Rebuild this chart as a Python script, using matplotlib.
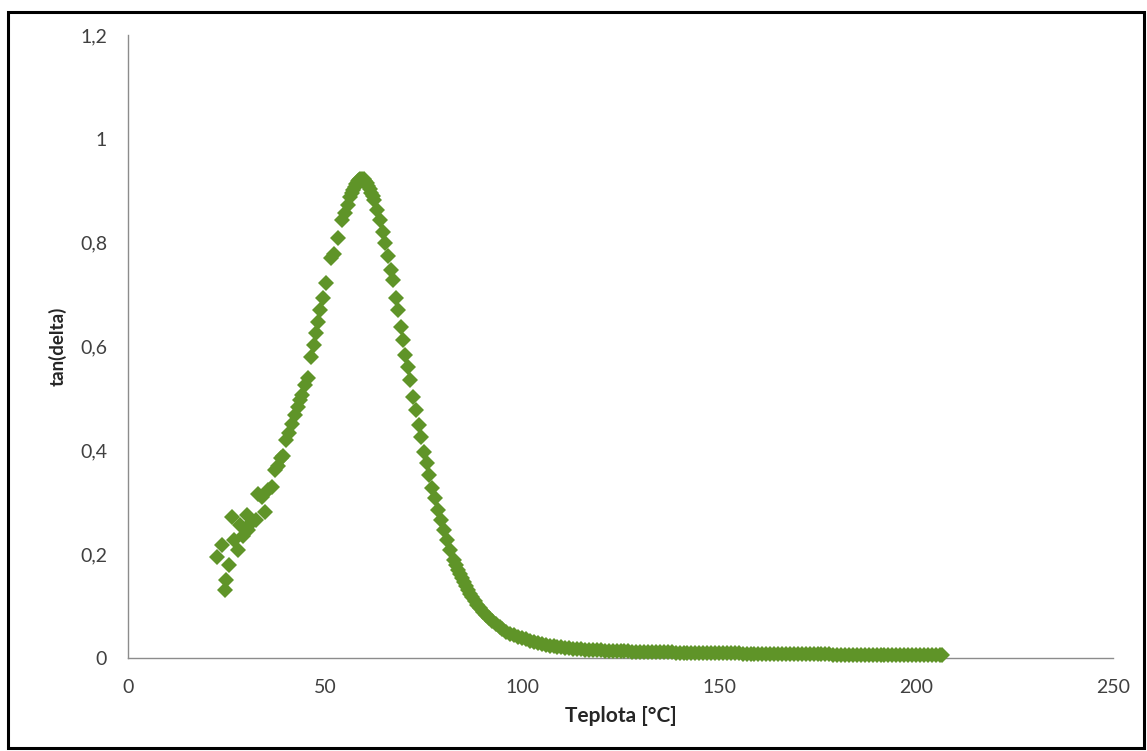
import matplotlib
matplotlib.use("Agg")
import matplotlib.pyplot as plt
from matplotlib.patches import Rectangle
from matplotlib.ticker import FuncFormatter

# ---- data ----
temp_low = [22.6, 23.9, 24.6, 24.9, 25.6, 26.4, 26.9, 27.9, 28.4, 29.2, 30.2, 30.5,
            31.5, 32.5, 33.0, 34.0, 34.8, 35.5, 36.5, 37.3, 38.1, 38.8, 39.3]
tan_low = [0.195, 0.218, 0.131, 0.150, 0.179, 0.272, 0.227, 0.208, 0.256, 0.235, 0.276, 0.247,
           0.262, 0.266, 0.316, 0.310, 0.281, 0.324, 0.330, 0.362, 0.370, 0.385, 0.390]

temp_peak = [40.1, 40.9, 41.6, 42.4, 43.1, 43.7, 44.2, 44.9, 45.7, 46.4, 47.2, 47.7, 48.2,
             48.7, 49.5, 50.3, 51.5, 52.3, 53.3, 54.3, 55.1, 55.8, 56.3, 56.8, 57.1, 57.5,
             57.9, 58.3, 58.6, 59.0, 59.4, 59.8, 60.2, 60.6, 60.9, 61.3, 61.7, 62.1, 62.4,
             63.2, 64.0, 64.7, 65.2, 66.0, 66.8, 67.3, 68.0, 68.5, 69.3, 69.8, 70.3, 71.1,
             71.6, 72.3, 73.1, 73.9, 74.4, 75.1, 75.9, 76.4, 77.2, 77.9, 78.7, 79.4, 80.2,
             81.0, 81.7, 82.7, 83.2, 83.8, 84.3, 84.8, 85.3, 85.8, 86.3, 86.8, 87.4, 88.1,
             88.7, 89.3, 90.1, 90.9, 91.6, 92.4, 93.4, 94.4]
tan_peak = [0.420, 0.433, 0.450, 0.468, 0.484, 0.496, 0.507, 0.526, 0.540, 0.580, 0.603, 0.626,
            0.647, 0.670, 0.694, 0.723, 0.771, 0.778, 0.809, 0.844, 0.857, 0.873, 0.888, 0.896,
            0.902, 0.908, 0.913, 0.918, 0.921, 0.923, 0.923, 0.922, 0.919, 0.915, 0.909, 0.903,
            0.896, 0.889, 0.882, 0.863, 0.844, 0.821, 0.800, 0.775, 0.748, 0.728, 0.694, 0.670,
            0.638, 0.613, 0.584, 0.561, 0.536, 0.503, 0.478, 0.449, 0.426, 0.397, 0.376, 0.353,
            0.328, 0.308, 0.285, 0.266, 0.247, 0.227, 0.208, 0.189, 0.180, 0.170, 0.162, 0.154,
            0.146, 0.139, 0.131, 0.123, 0.117, 0.110, 0.103, 0.096, 0.089, 0.083, 0.077, 0.071,
            0.065, 0.060]

temp_tail = list(range(95, 207)) + [206.5]
tan_tail = [0.055, 0.051, 0.047, 0.044, 0.041, 0.038, 0.036, 0.033, 0.031, 0.029,
            0.027, 0.026, 0.024, 0.023, 0.022, 0.021, 0.020, 0.019, 0.018, 0.0175,
            0.017, 0.016, 0.0155, 0.015, 0.0148, 0.0145,
            0.0140, 0.0138, 0.0135, 0.0133, 0.0130, 0.0128, 0.0126, 0.0124, 0.0122, 0.0120,
            0.0118, 0.0116, 0.0115, 0.0113, 0.0112, 0.0110, 0.0108, 0.0107, 0.0105, 0.0104,
            0.0102, 0.0101, 0.0100, 0.0099, 0.0098, 0.0097, 0.0095, 0.0094, 0.0093, 0.0092,
            0.0091, 0.0090, 0.0089, 0.0088, 0.0087, 0.0086, 0.0085, 0.0084, 0.0083, 0.0082,
            0.0081, 0.0080, 0.0079, 0.0078, 0.0078, 0.0077, 0.0076, 0.0075, 0.0074, 0.0073,
            0.0073, 0.0072, 0.0071, 0.0071, 0.0070, 0.0069, 0.0069, 0.0068, 0.0067, 0.0067,
            0.0066, 0.0066, 0.0065, 0.0065, 0.0064, 0.0063, 0.0063, 0.0062, 0.0062, 0.0061,
            0.0061, 0.0060, 0.0060, 0.0059, 0.0059, 0.0058, 0.0058, 0.0057, 0.0057, 0.0056,
            0.0056, 0.0055, 0.0055, 0.0054, 0.0054, 0.0053, 0.0053]

x_ticks = [0, 50, 100, 150, 200, 250]
y_ticks = [0, 0.2, 0.4, 0.6, 0.8, 1.0, 1.2]
x_label = "Teplota [°C]"
y_label = "tan(delta)"

temps = temp_low + temp_peak + temp_tail
tans = tan_low + tan_peak + tan_tail

# ---- figure ----
plt.rcParams['font.family'] = ['Lato', 'DejaVu Sans']
fig = plt.figure(figsize=(11.47, 7.51), dpi=100)
ax = fig.add_axes([128 / 1147, 1 - 658 / 751, (1113 - 128) / 1147, (658 - 35) / 751])

green = '#5F9428'
ax.plot(temps, tans, linestyle='none', marker='D', markersize=8.2,
        markerfacecolor=green, markeredgewidth=0, clip_on=False, zorder=3)

ax.set_xlim(0, 250)
ax.set_ylim(0, 1.2)
ax.set_xticks(x_ticks)
ax.set_yticks(y_ticks)

def comma_fmt(v, pos):
    s = ('%g' % round(v, 2))
    return s.replace('.', ',')

ax.xaxis.set_major_formatter(FuncFormatter(comma_fmt))
ax.yaxis.set_major_formatter(FuncFormatter(comma_fmt))

for side in ['top', 'right']:
    ax.spines[side].set_visible(False)
for side in ['left', 'bottom']:
    ax.spines[side].set_color('#8C8C8C')
    ax.spines[side].set_linewidth(1.0)
ax.tick_params(axis='both', length=0, labelsize=14, labelcolor='#404040')
ax.tick_params(axis='y', pad=15)
ax.tick_params(axis='x', pad=15)

ax.set_xlabel(x_label, fontsize=15, fontweight='bold', color='#262626', labelpad=7)
ax.set_ylabel(y_label, fontsize=13.5, fontweight='bold', color='#262626', labelpad=10)

# outer black frame
fig.patches.append(Rectangle((8 / 1147, 3 / 751), 1136 / 1147, 736 / 751,
                             transform=fig.transFigure, fill=False,
                             edgecolor='black', linewidth=2.2, zorder=10))

fig.savefig('out.png', dpi=100)
